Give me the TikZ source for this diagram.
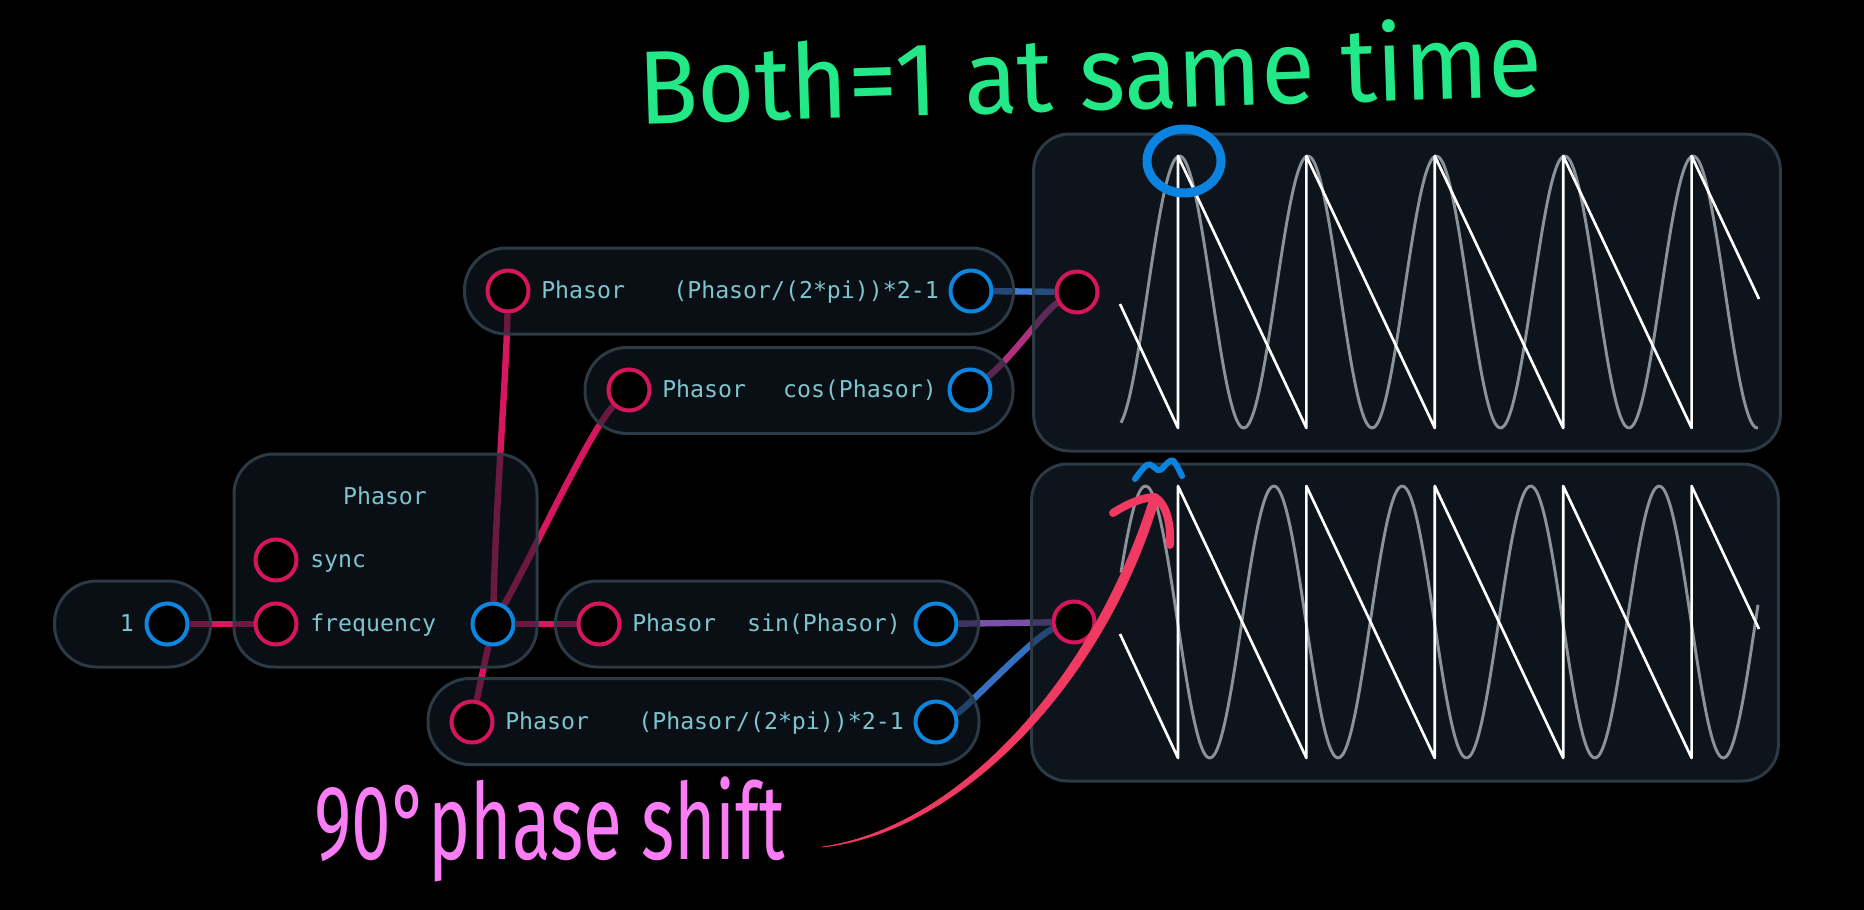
\documentclass[tikz,border=0pt]{standalone}
\usepackage{fontspec}
\usepackage{graphicx}
\setmonofont{DejaVu Sans Mono}
\newfontfamily\handfont{Fira Sans}

\definecolor{boxfill}{RGB}{20,29,40}
\definecolor{scopefill}{RGB}{24,38,51}
\definecolor{boxline}{RGB}{44,58,70}
\definecolor{portred}{RGB}{214,22,90}
\definecolor{portblue}{RGB}{12,134,222}
\definecolor{labeltext}{RGB}{125,196,205}
\definecolor{wirepink}{RGB}{214,22,94}
\definecolor{wireblue}{RGB}{58,123,213}
\definecolor{wiremagenta}{RGB}{176,48,128}
\definecolor{wirepurple}{RGB}{122,80,168}
\definecolor{sinegray}{RGB}{140,146,153}
\definecolor{notegreen}{RGB}{34,232,135}
\definecolor{notepink}{RGB}{250,125,245}
\definecolor{notered}{RGB}{240,58,98}
\definecolor{noteblue}{RGB}{10,132,224}

\pgfdeclarelayer{back}
\pgfdeclarelayer{wires}
\pgfdeclarelayer{boxes}
\pgfsetlayers{back,wires,boxes,main}

\tikzset{every picture/.style={line width=0.75pt}}
\tikzset{
  box/.style={draw=boxline, line width=2.25pt, fill=boxfill, fill opacity=0.55, draw opacity=1,
    inner sep=0pt, rounded corners=31.5pt, minimum height=64.5pt},
  scopebox/.style={box, fill=scopefill, rounded corners=27pt, minimum width=560pt, minimum height=237.75pt},
  inport/.style={circle, draw=portred, line width=3pt, fill=black, minimum size=30.75pt, inner sep=0pt},
  outport/.style={inport, draw=portblue},
  lbl/.style={text=labeltext, font=\ttfamily\fontsize{17.4}{20}\selectfont, inner sep=0pt,
    text height=11.2pt, text depth=0pt},
  wire/.style={line width=4.8pt},
  sinetrace/.style={draw=sinegray, line width=2.2pt, line join=round},
  sawtrace/.style={draw=white, line width=2pt, line join=round},
  note/.style={inner sep=0pt, font=\handfont},
  markblue/.style={draw=noteblue, line cap=round, line join=round},
}

\begin{document}
\begin{tikzpicture}[x=0.75pt,y=0.75pt,yscale=-1,xscale=1]
\useasboundingbox (0,0) rectangle (1864,910);
\begin{pgfonlayer}{back}
\fill[black] (0,0) rectangle (1864,910);
\end{pgfonlayer}

%Shape: module boxes
\begin{pgfonlayer}{boxes}
\node[box, minimum width=117pt] (onebox) at (132.5,624) {};
\node[box, minimum width=227.25pt, minimum height=159.75pt, rounded corners=30pt] (phasorbox) at (385.5,560.5) {};
\node[box, minimum width=411.75pt] (sawabox) at (739,291) {};
\node[box, minimum width=321pt] (cosbox) at (799,390.5) {};
\node[box, minimum width=317.25pt] (sinbox) at (767,624) {};
\node[box, minimum width=413.25pt] (sawbbox) at (703.5,721.5) {};
\node[scopebox] (scopea) at (1407,292.5) {};
\node[scopebox] (scopeb) at (1405,622.5) {};
\end{pgfonlayer}

%Shape: ports
\node[outport] (one_out) at (167,624) {};
\node[inport] (ph_sync) at (276,560) {};
\node[inport] (ph_freq) at (276,624) {};
\node[outport] (ph_out) at (493,624) {};
\node[inport] (sawa_in) at (508,291) {};
\node[outport] (sawa_out) at (971,291) {};
\node[inport] (cos_in) at (629,390) {};
\node[outport] (cos_out) at (970,390) {};
\node[inport] (sin_in) at (599,624) {};
\node[outport] (sin_out) at (936,624) {};
\node[inport] (sawb_in) at (472,722) {};
\node[outport] (sawb_out) at (936,722) {};
\node[inport] (scopea_in) at (1077,292) {};
\node[inport] (scopeb_in) at (1074,622) {};

% Text Node
\node[lbl, anchor=east] (one_txt) at (134,624) {1};
\node[lbl] (ph_title) at (385,497) {Phasor};
\node[lbl, anchor=west] (sync_txt) at (310,560) {sync};
\node[lbl, anchor=west] (freq_txt) at (310,624) {frequency};
\node[lbl, anchor=west] (sawa_lbl) at (541,291) {Phasor};
\node[lbl, anchor=east] (sawa_expr) at (939,291) {(Phasor/(2*pi))*2-1};
\node[lbl, anchor=west] (cos_lbl) at (662,390) {Phasor};
\node[lbl, anchor=east] (cos_expr) at (937,390) {cos(Phasor)};
\node[lbl, anchor=west] (sin_lbl) at (632,624) {Phasor};
\node[lbl, anchor=east] (sin_expr) at (901,624) {sin(Phasor)};
\node[lbl, anchor=west] (sawb_lbl) at (505,722) {Phasor};
\node[lbl, anchor=east] (sawb_expr) at (904,722) {(Phasor/(2*pi))*2-1};

%Shape: cables
\begin{pgfonlayer}{wires}
\draw[wire, wirepink] (one_out) -- (ph_freq);
\draw[wire, wirepink] (ph_out) .. controls (496,500) and (506,380) .. (sawa_in);
\draw[wire, wirepink] (ph_out) .. controls (530,560) and (590,430) .. (cos_in);
\draw[wire, wirepink] (ph_out) -- (sin_in);
\draw[wire, wirepink] (ph_out) -- (sawb_in);
\draw[wire, wireblue] (sawa_out) -- (scopea_in);
\draw[wire, wiremagenta] (cos_out) .. controls (1010,360) and (1045,310) .. (scopea_in);
\draw[wire, wirepurple] (sin_out) -- (scopeb_in);
\draw[wire, wireblue!90!black] (sawb_out) .. controls (965,710) and (1035,635) .. (scopeb_in);
\end{pgfonlayer}

%Shape: scope traces
\foreach \cy/\pk in {292/1179.5, 622/1145.5} {
  \draw[sinetrace] plot[domain=1121:1758, samples=260, smooth] (\x,{\cy-136*cos((\x-\pk)/128.4*360)});
  \draw[sawtrace] (1120,{\cy+12}) \foreach \k in {0,...,4} { -- ({1178+128.4*\k},{\cy+136}) -- ({1178+128.4*\k},{\cy-136}) } -- (1759,{\cy+7});
}

% Text Node
\node[note, text=notegreen, rotate=1.8] (bothnote) at (1090,70) {\resizebox*{678pt}{62pt}{Both=1 at same time}};
\node[note, text=notepink] (shiftnote) at (550,829) {\resizebox*{353pt}{79pt}{90°phase shift}};

%Shape: hand marks
\draw[markblue, line width=6.75pt] (1184,161) ellipse [x radius=37, y radius=32];
\draw[markblue, line width=4.5pt] plot[smooth, tension=0.7] coordinates {(1135,479) (1147,465) (1155,468) (1160,470) (1170,461) (1175,463) (1182,476)};

\coordinate (shifttail) at (822,847);
\coordinate (shifttip) at (1155,497);
\fill[notered, draw=notered, line width=0.5pt, line join=round] (shifttail) .. controls (959.6,827) and (1095,677) .. ([shift={(-4.2,-1.6)}]shifttip) -- ([shift={(4.2,1.6)}]shifttip) .. controls (1105,683) and (960.4,833) .. (shifttail) -- cycle;
\draw[notered, line width=6pt, line cap=round, line join=round] (1113,513) .. controls (1128,503) and (1145,497) .. (shifttip) .. controls (1167,505) and (1171,525) .. (1170,545);

\end{tikzpicture}
\end{document}
